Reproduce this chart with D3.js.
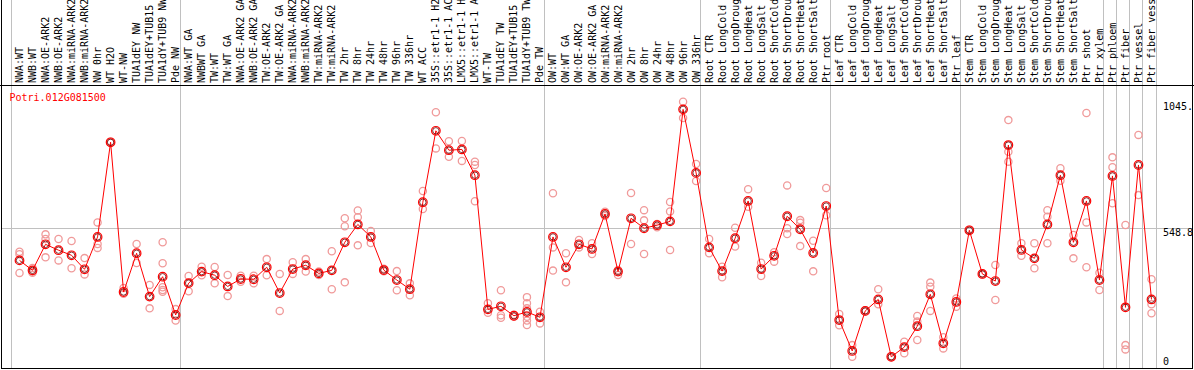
<!DOCTYPE html>
<html>
<head>
<meta charset="utf-8">
<script src="https://cdn.jsdelivr.net/npm/d3@7"></script>
<style>
  body { margin: 0; background: #fff; }
  svg { display: block; }
  text { font-family: "DejaVu Sans Mono", monospace; font-size: 10px; }
</style>
</head>
<body>
<div id="chart-area"></div>
<script>
// DATA
var gene = "Potri.012G081500";

var samples = [
  "NWA:WT", "NWB:WT", "NWA:OE-ARK2", "NWB:OE-ARK2", "NWA:miRNA-ARK2", "NWB:miRNA-ARK2",
  "NW 0hr", "WT H2O", "WT-NW", "TUA1dEY NW", "TUA1dEY+TUB15", "TUA1dY+TUB9 NW", "Pde NW",
  "NWA:WT GA", "NWBWT GA", "TW:WT", "TW:WT GA", "NWA:OE-ARK2 GA", "NWB:OE-ARK2 GA",
  "TW:OE-ARK2", "TW:OE-ARK2 GA", "NWA:miRNA-ARK2", "NWB:miRNA-ARK2", "TW:miRNA-ARK2",
  "TW:miRNA-ARK2", "TW 2hr", "TW 8hr", "TW 24hr", "TW 48hr", "TW 96hr", "TW 336hr",
  "WT ACC", "35S::etr1-1 H2O", "35S::etr1-1 ACC", "LMX5::etr1-1 H2O", "LMX5::etr1-1 ACC",
  "WT-TW", "TUA1dEY TW", "TUA1dEY+TUB15", "TUA1dY+TUB9 TW", "Pde TW",
  "OW:WT", "OW:WT GA", "OW:OE-ARK2", "OW:OE-ARK2 GA", "OW:miRNA-ARK2", "OW:miRNA-ARK2",
  "OW 2hr", "OW 8hr", "OW 24hr", "OW 48hr", "OW 96hr", "OW 336hr",
  "Root CTR", "Root LongCold", "Root LongDrought", "Root LongHeat", "Root LongSalt",
  "Root ShortCold", "Root ShortDrought", "Root ShortHeat", "Root ShortSalt", "Ptr root",
  "Leaf CTR", "Leaf LongCold", "Leaf LongDrought", "Leaf LongHeat", "Leaf LongSalt",
  "Leaf ShortCold", "Leaf ShortDrought", "Leaf ShortHeat", "Leaf ShortSalt", "Ptr leaf",
  "Stem CTR", "Stem LongCold", "Stem LongDrought", "Stem LongHeat", "Stem LongSalt",
  "Stem ShortCold", "Stem ShortDrought", "Stem ShortHeat", "Stem ShortSalt",
  "Ptr shoot", "Ptr xylem", "Ptr phloem", "Ptr fiber", "Ptr vessel", "Ptr fiber vessel"
];

// index of the first sample of each group
var groupStarts = [0, 13, 41, 53, 63, 73, 84, 85, 86, 87, 88];

var means = [
  423, 384, 486, 463, 443, 388, 515, 886, 299, 451, 281, 359, 209,
  334, 379, 365, 321, 350, 349, 396, 295, 389, 404, 372, 384, 494, 564, 515,
  385, 346, 310, 651, 931, 855, 858, 757, 231, 243, 206, 221, 200,
  515, 396, 486, 468, 605, 379, 588, 549, 561, 576, 1015, 766,
  474, 381, 510, 656, 389, 441, 596, 545, 452, 636,
  189, 68, 225, 270, 45, 83, 165, 290, 98, 260,
  541, 370, 342, 875, 464, 431, 564, 757, 494, 656, 346,
  754, 239, 797, 270
];

var replicates = [
  [457, 447, 374], [393, 379, 375], [525, 507, 435], [507, 423], [499, 392], [432, 368],
  [572, 487, 472], [884, 888], [315, 292], [487, 413], [327, 235], [494, 412, 318, 307, 300],
  [232, 187],
  [362, 302], [398, 365], [397, 333], [366, 283], [363, 339], [363, 333], [428, 365],
  [370, 225], [416, 370], [428, 379], [379, 366], [459, 310], [588, 557, 337],
  [619, 592, 482], [538, 491], [390, 380], [381, 306], [333, 286], [695, 624],
  [1004, 862], [890, 829], [891, 813], [810, 797, 655], [255, 218], [306, 208, 198],
  [210, 202], [279, 255, 235, 202, 187, 170], [222, 176],
  [686, 474, 383], [451, 337], [503, 474], [490, 448], [614, 597], [385, 366],
  [687, 487], [620, 580, 448], [566, 553], [652, 615, 464], [1045.3, 981], [801, 734],
  [507, 451], [398, 357], [551, 477], [702, 633], [414, 362], [455, 418],
  [717, 549, 526], [581, 571, 479], [500, 380], [707, 600],
  [213, 169], [91, 45], [222, 228], [310, 251], [43, 47], [104, 59], [205, 183, 111],
  [336, 320, 225], [122, 78], [274, 241],
  [539, 543], [372, 368], [405, 268], [973, 849, 810], [490, 441], [490, 392],
  [620, 594, 490], [784, 735], [523, 431], [1001, 572, 396], [375, 307],
  [827, 788, 647], [562, 91, 74], [915, 679], [349, 251, 216]
];

var yMax = 1097.6;
var yTicks = [0, 548.8, 1045.3];

// LAYOUT
var width = 1194, height = 370;
var headerBottom = 85.5, plotBottom = 368.5;
var leftEdge = 1.5, rightEdge = 1192.5;

var svg = d3.select("#chart-area").append("svg")
    .attr("width", width)
    .attr("height", height);

var x = d3.scaleBand()
    .domain(d3.range(samples.length))
    .range([13, 1158])
    .padding(0);

var y = d3.scaleLinear()
    .domain([0, yMax])
    .range([plotBottom - 0.2, 88.3]);

var cx = i => x(i) + x.bandwidth() / 2;

svg.append("clipPath").attr("id", "frame")
  .append("rect")
    .attr("x", leftEdge).attr("y", 0)
    .attr("width", rightEdge - leftEdge).attr("height", plotBottom);

// group separators
svg.append("g")
  .selectAll("line")
  .data(groupStarts)
  .join("line")
    .attr("x1", d => Math.round((d < samples.length ? x(d) : x.range()[1]) - 2.5) + 0.5)
    .attr("x2", d => Math.round((d < samples.length ? x(d) : x.range()[1]) - 2.5) + 0.5)
    .attr("y1", 0)
    .attr("y2", plotBottom)
    .attr("stroke", "#c0c0c0");

// middle grid line
svg.append("line")
    .attr("x1", leftEdge).attr("x2", rightEdge)
    .attr("y1", Math.round(y(yTicks[1])) + 0.5)
    .attr("y2", Math.round(y(yTicks[1])) + 0.5)
    .attr("stroke", "#c0c0c0");

// sample labels (rotated)
svg.append("g")
  .selectAll("text")
  .data(samples)
  .join("text")
    .attr("transform", (d, i) => `translate(${cx(i)},83) rotate(-90)`)
    .attr("dy", "0.35em")
    .attr("fill", "black")
    .text(d => d);

// frame
svg.append("line")
    .attr("x1", 0).attr("x2", width)
    .attr("y1", headerBottom).attr("y2", headerBottom)
    .attr("stroke", "black");
svg.append("line")
    .attr("x1", leftEdge).attr("x2", rightEdge)
    .attr("y1", plotBottom).attr("y2", plotBottom)
    .attr("stroke", "black");
svg.append("line")
    .attr("x1", leftEdge).attr("x2", leftEdge)
    .attr("y1", 0).attr("y2", plotBottom + 0.5)
    .attr("stroke", "black");
svg.append("line")
    .attr("x1", rightEdge).attr("x2", rightEdge)
    .attr("y1", 0).attr("y2", plotBottom + 0.5)
    .attr("stroke", "black");

// y tick labels on the right
svg.append("g")
    .attr("clip-path", "url(#frame)")
  .selectAll("text")
  .data(yTicks)
  .join("text")
    .attr("x", 1163)
    .attr("y", d => d === 0 ? y(d) - 3 : y(d) + 8)
    .attr("fill", "black")
    .text(d => d === 0 ? "0" : d3.format(".1f")(d));

// gene title
svg.append("text")
    .attr("x", 9.5)
    .attr("y", 101)
    .attr("fill", "red")
    .text(gene);

var plot = svg.append("g");

// replicates
var repPoints = [];
replicates.forEach((r, i) => r.forEach(v => repPoints.push({ i: i, v: v })));

plot.append("g")
  .selectAll("circle")
  .data(repPoints)
  .join("circle")
    .attr("cx", d => cx(d.i))
    .attr("cy", d => y(d.v))
    .attr("r", 3.6)
    .attr("fill", "none")
    .attr("stroke", "#f09a9a")
    .attr("stroke-width", 1.3);

// mean line
var line = d3.line()
    .x((d, i) => cx(i))
    .y(d => y(d));

plot.append("path")
    .datum(means)
    .attr("fill", "none")
    .attr("stroke", "red")
    .attr("stroke-width", 1)
    .attr("d", line);

// mean markers
var meanMarks = plot.append("g")
  .selectAll("g")
  .data(means)
  .join("g")
    .attr("transform", (d, i) => `translate(${cx(i)},${y(d)})`);

meanMarks.append("circle")
    .attr("r", 4.3)
    .attr("fill", "none")
    .attr("stroke", "red")
    .attr("stroke-width", 1.2);

meanMarks.append("circle")
    .attr("r", 3.2)
    .attr("fill", "none")
    .attr("stroke", "#600")
    .attr("stroke-width", 0.8);
</script>
</body>
</html>
